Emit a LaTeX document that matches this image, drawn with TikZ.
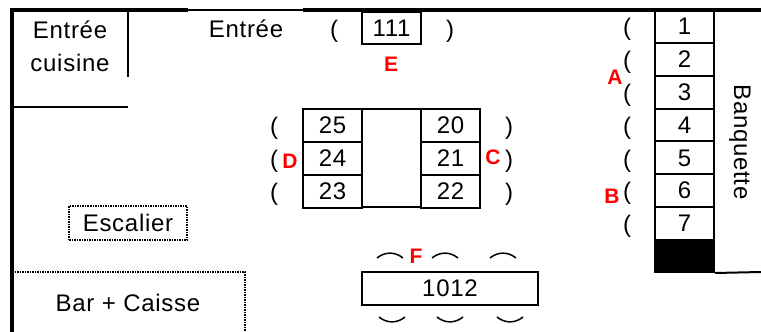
\documentclass[tikz,border=0pt]{standalone}
\usepackage{fontspec}
\setmainfont{Liberation Sans}[LetterSpace=3]

\begin{document}
\begin{tikzpicture}
  [x=1pt,y=-1pt,font=\fontsize{24}{28}\selectfont,
   every node/.style={inner sep=0pt},
   tbl/.style={draw,line width=2pt,minimum width=59pt,minimum height=33pt},
   lbl/.style={text=red,font=\fontsize{21}{24}\selectfont\bfseries}]
  \useasboundingbox (0,0) rectangle (761,332);

  \draw[line width=4pt] (12,332) -- (12,10) -- (188,10);
  \draw[line width=1.5pt] (188,10) -- (303,10);
  \draw[line width=4pt] (303,10) -- (761,10);
  \draw[line width=2pt] (128,10) -- (128,77);
  \draw[line width=2pt] (12,107) -- (128,107);
  \node[align=center,font=\fontsize{24}{33}\selectfont] (kitchen) at (70,46) {Entrée\\cuisine};
  \node (entree) at (246,29) {Entrée};

  \node[tbl,minimum height=32pt] (111) at (391.5,28) {111};
  \node (p111l) at (334,31) {(};
  \node (p111r) at (450,31) {)};
  \node[lbl] (E) at (391,64) {E};

  \foreach \n in {1,...,7}
  {
    \node[tbl,minimum height=32.86pt] (\n) at (684.5,{10+32.86*(\n-0.5)}) {\n};
    \node (c\n) at (627,{13+32.86*(\n-0.5)}) {(};
  }
  \node[tbl,fill=black,minimum height=32pt] (blk) at (684.5,256) {};
  \coordinate (bqend) at (761,272);
  \draw[line width=2pt] (blk.south east) -- (bqend);
  \node[rotate=-90] (banq) at (740,142) {Banquette};
  \node[lbl] (A) at (615,77) {A};
  \node[lbl] (B) at (612,196) {B};

  \node[tbl,minimum height=98pt] (mid) at (391.5,158) {};
  \foreach \l/\r/\y in {25/20/125.5,24/21/158.5,23/22/191}
  {
    \node[tbl] (\l) at (332.5,\y) {\l};
    \node[tbl] (\r) at (450.5,\y) {\r};
    \node (p\l) at (274,\y+3) {(};
    \node (p\r) at (509,\y+3) {)};
  }
  \node[lbl] (D) at (290,161) {D};
  \node[lbl] (C) at (493,157) {C};

  \node[tbl,minimum width=176pt] (1012) at (450,288.5) {1012};
  \foreach \x in {390,445,503}
    \draw[line width=1.5pt] (\x-13,258) .. controls (\x-5,251.5) and (\x+5,251.5) .. (\x+13,258);
  \foreach \x in {392,450,510}
    \draw[line width=1.5pt] (\x-13,317) .. controls (\x-5,323.5) and (\x+5,323.5) .. (\x+13,317);
  \node[lbl] (F) at (416,256) {F};

  \node[draw,line width=1.2pt,dash pattern=on 1.5pt off 1pt,minimum width=118pt,minimum height=34pt] (stairs) at (128,223) {Escalier};
  \draw[line width=1.5pt,dash pattern=on 1.5pt off 1pt] (12,272) -- (245,272) -- (245,332);
  \node (bar) at (128,303) {Bar + Caisse};

\end{tikzpicture}
\end{document}
